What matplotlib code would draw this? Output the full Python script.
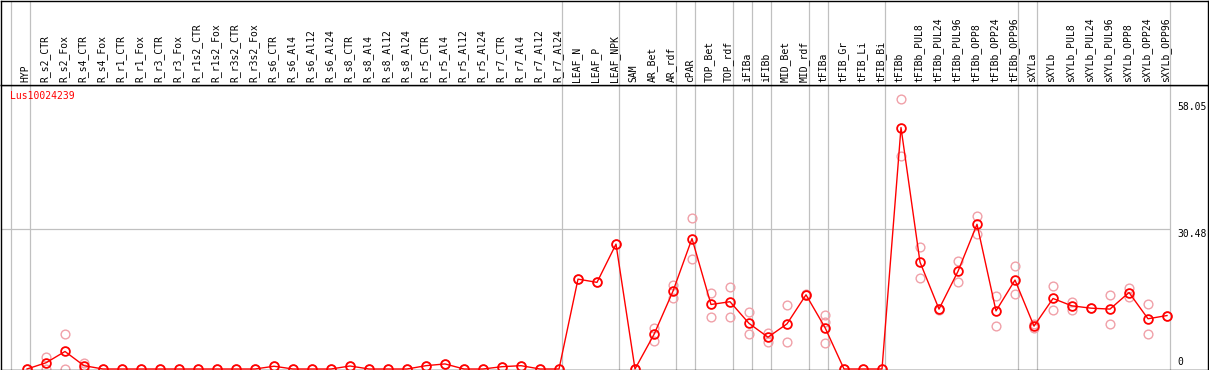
import matplotlib
matplotlib.use("Agg")
import matplotlib.pyplot as plt

# DATA
gene = "Lus10024239"
categories = [
    "HYP", "R_s2_CTR", "R_s2_Fox", "R_s4_CTR", "R_s4_Fox", "R_r1_CTR", "R_r1_Fox",
    "R_r3_CTR", "R_r3_Fox", "R_r1s2_CTR", "R_r1s2_Fox", "R_r3s2_CTR", "R_r3s2_Fox",
    "R_s6_CTR", "R_s6_Al4", "R_s6_Al12", "R_s6_Al24", "R_s8_CTR", "R_s8_Al4",
    "R_s8_Al12", "R_s8_Al24", "R_r5_CTR", "R_r5_Al4", "R_r5_Al12", "R_r5_Al24",
    "R_r7_CTR", "R_r7_Al4", "R_r7_Al12", "R_r7_Al24", "LEAF_N", "LEAF_P", "LEAF_NPK",
    "SAM", "AR_Bet", "AR_rdf", "cPAR", "TOP_Bet", "TOP_rdf", "iFIBa", "iFIBb",
    "MID_Bet", "MID_rdf", "tFIBa", "tFIB_Gr", "tFIB_Li", "tFIB_Bi", "tFIBb",
    "tFIBb_PUL8", "tFIBb_PUL24", "tFIBb_PUL96", "tFIBb_OPP8", "tFIBb_OPP24",
    "tFIBb_OPP96", "sXYLa", "sXYLb", "sXYLb_PUL8", "sXYLb_PUL24", "sXYLb_PUL96",
    "sXYLb_OPP8", "sXYLb_OPP24", "sXYLb_OPP96",
]
means = [
    0, 1.35, 3.8, 0.72, 0, 0, 0, 0, 0, 0, 0, 0, 0,
    0.6, 0, 0, 0, 0.65, 0, 0, 0, 0.72, 1.1, 0, 0, 0.5, 0.72, 0, 0,
    19.5, 18.8, 27.1, 0, 7.5, 16.9, 28.3, 14.0, 14.6, 9.9, 6.9, 9.8, 16.1,
    9.0, 0, 0, 0, 52.4, 23.2, 13.0, 21.2, 31.4, 12.6, 19.3,
    9.3, 15.3, 13.7, 13.2, 13.0, 16.6, 10.9, 11.6,
]
replicates = {
    "R_s2_CTR": [2.67, 0], "R_s2_Fox": [7.66, 0], "R_s4_CTR": [1.37, 0.07],
    "AR_Bet": [9.0, 6.1], "AR_rdf": [18.2, 15.5], "cPAR": [32.7, 23.8],
    "TOP_Bet": [16.6, 11.3], "TOP_rdf": [17.9, 11.3], "iFIBa": [12.3, 7.6],
    "iFIBb": [7.9, 5.9], "MID_Bet": [13.8, 5.8], "MID_rdf": [16.2, 16.0],
    "tFIBa": [11.7, 10.3, 5.6], "tFIBb": [58.7, 46.2], "tFIBb_PUL8": [26.4, 19.7],
    "tFIBb_PUL24": [13.1, 12.9], "tFIBb_PUL96": [23.4, 18.8],
    "tFIBb_OPP8": [33.2, 29.4], "tFIBb_OPP24": [15.8, 9.3],
    "tFIBb_OPP96": [22.4, 16.2], "sXYLa": [9.8, 8.8], "sXYLb": [18.0, 12.8],
    "sXYLb_PUL8": [14.5, 12.8], "sXYLb_PUL96": [16.1, 9.7],
    "sXYLb_OPP8": [17.6, 15.6], "sXYLb_OPP24": [14.0, 7.5],
}
# last category of each group (separator drawn after it), -1 = before first
group_ends = [-1, 0, 28, 31, 34, 35, 37, 38, 39, 41, 42, 45, 52, 53, 60]
y_ticks = [58.05, 30.48, 0]

RED = "#ff0000"
PALE = "#f0a0a8"
GRAY = "#c0c0c0"
FONT = "DejaVu Sans Mono"

W, H = 1209, 370
fig = plt.figure(figsize=(W / 100, H / 100), dpi=100)

# pixel layout
x0_px, dx_px = 27, 19
left_px, right_px = 1, 1208
head_px, bottom_px = 85, 369.5
px_per_unit = 4.608

xlim = ((left_px - x0_px) / dx_px, (right_px - x0_px) / dx_px)
ymin = -(bottom_px - 0.5 - 369) / px_per_unit - 0.11
ymax = (369 - head_px) / px_per_unit

ax = fig.add_axes([left_px / W, (H - bottom_px) / H,
                   (right_px - left_px) / W, (bottom_px - head_px) / H])
axh = fig.add_axes([left_px / W, (H - head_px) / H,
                    (right_px - left_px) / W, (head_px - 0.5) / H])

for a in (ax, axh):
    a.set_xlim(*xlim)
    a.set_xticks([])
    a.set_yticks([])
    for s in a.spines.values():
        s.set_color("black")
        s.set_linewidth(1.0)
    for g in group_ends:
        a.axvline(g + 0.17, color=GRAY, lw=0.9, zorder=1)

ax.set_ylim(ymin, ymax)
axh.set_ylim(0, 1)

x = list(range(len(categories)))

# grid line
ax.hlines(30.48, xlim[0], group_ends[-1] + 0.17, color=GRAY, lw=0.9, zorder=1)

# replicates
rx, ry = [], []
for i, c in enumerate(categories):
    for v in replicates.get(c, [means[i]]):
        rx.append(i)
        ry.append(v)
ax.plot(rx, ry, "o", ls="none", ms=6.3, mfc="none", mec=PALE, mew=1.0,
        zorder=2, clip_on=False)

# mean profile
ax.plot(x, means, "-o", color=RED, lw=1.0, ms=6.3, mfc="none", mec=RED,
        mew=1.3, zorder=3, clip_on=False)

# header labels
for i, c in enumerate(categories):
    axh.text(i - 0.08, 0.03, c, rotation=90, ha="center", va="bottom",
             fontsize=7, family=FONT, color="black")

# y labels on the right
for v in y_ticks:
    if v == 0:
        ax.text(60.55, v + 0.35, "0", ha="left", va="bottom", fontsize=7,
                family=FONT)
    else:
        ax.text(60.55, v - 0.1, f"{v:.2f}", ha="left", va="top", fontsize=7,
                family=FONT)

ax.text(xlim[0] + 0.45, ymax - 1.3, gene, ha="left", va="top", fontsize=7,
        family=FONT, color=RED)

fig.savefig("out.png", dpi=100)
